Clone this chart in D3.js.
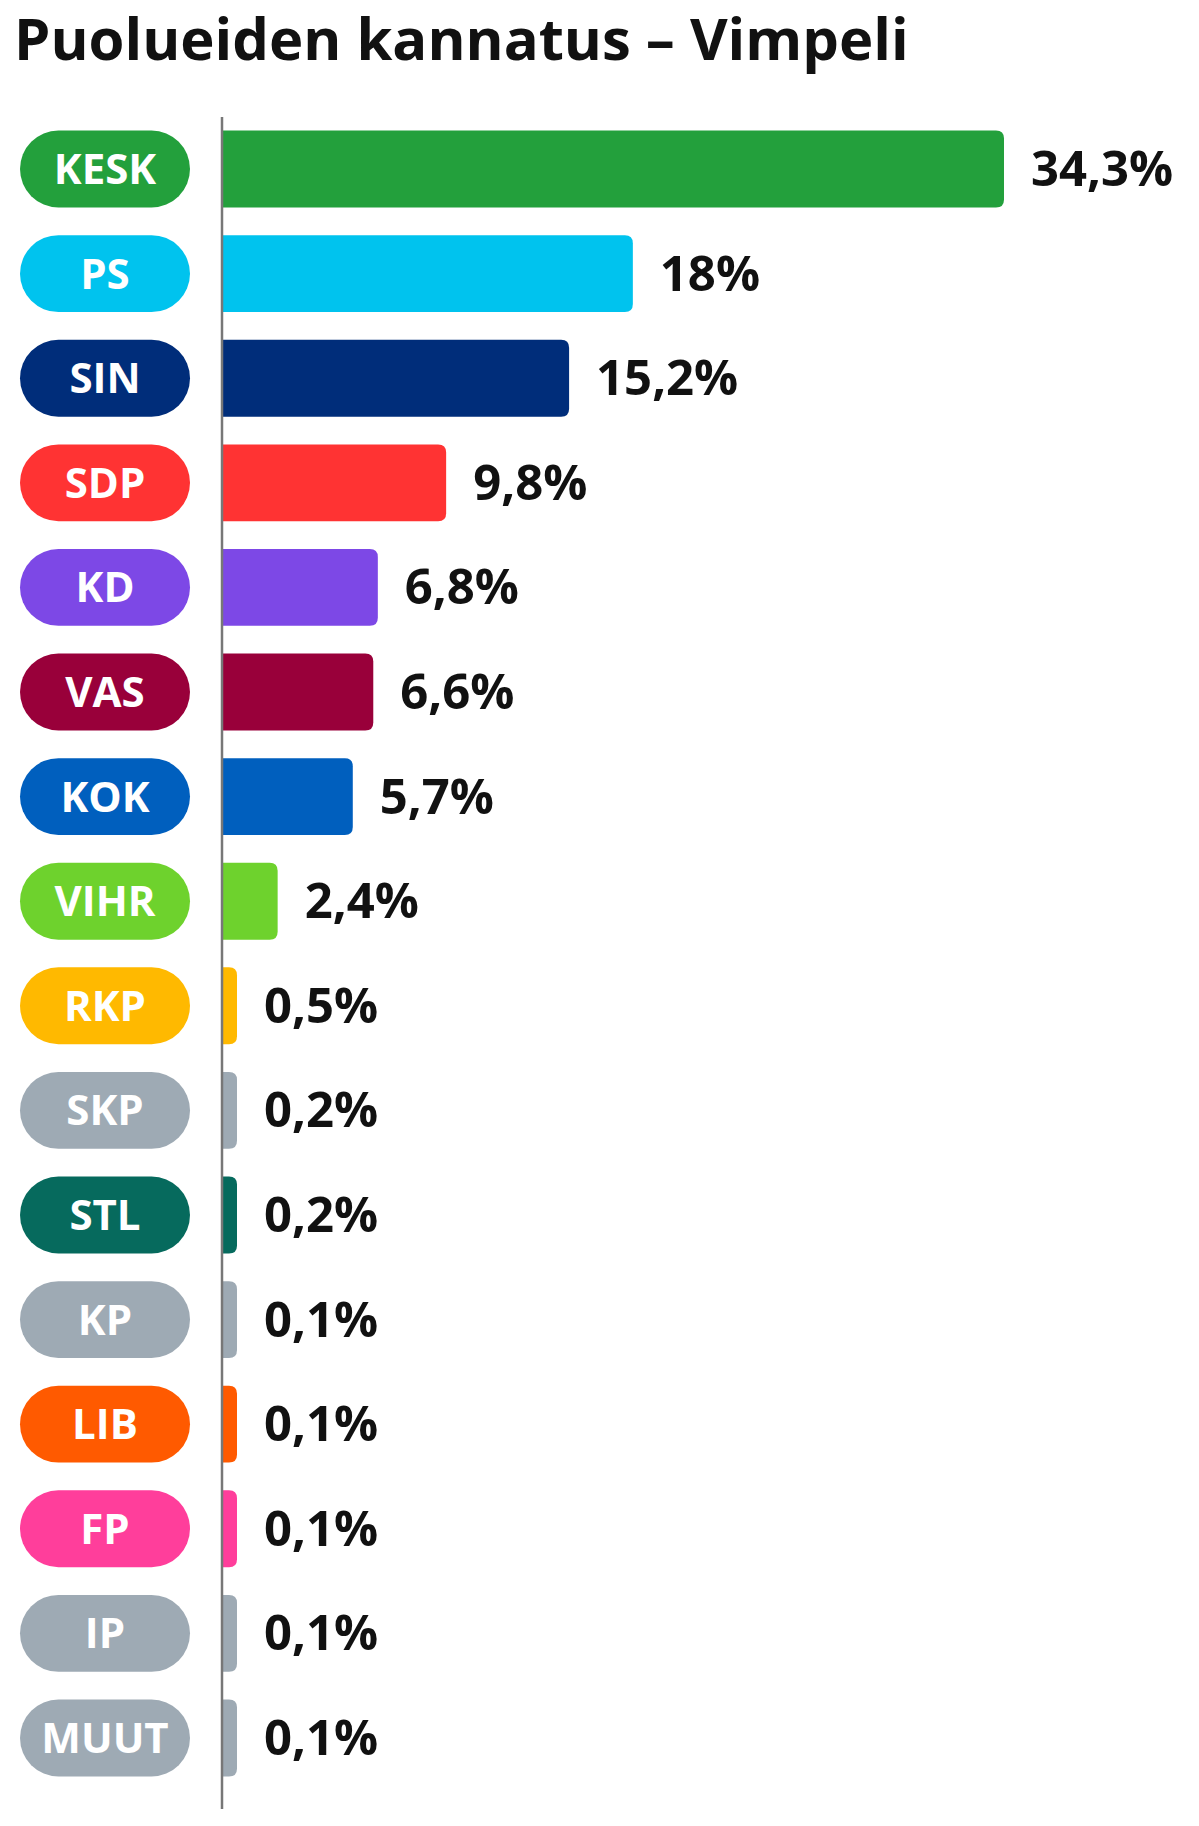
<!DOCTYPE html><html><head><meta charset="utf-8"><script src="https://cdn.jsdelivr.net/npm/d3@7"></script>
<style>body{margin:0;background:#fff}</style></head><body><svg id="c" width="1199" height="1826"></svg>
<script>
const parties=["KESK","PS","SIN","SDP","KD","VAS","KOK","VIHR","RKP","SKP","STL","KP","LIB","FP","IP","MUUT"];
const values=[34.3,18,15.2,9.8,6.8,6.6,5.7,2.4,0.5,0.2,0.2,0.1,0.1,0.1,0.1,0.1];
const labels=["34,3%","18%","15,2%","9,8%","6,8%","6,6%","5,7%","2,4%","0,5%","0,2%","0,2%","0,1%","0,1%","0,1%","0,1%","0,1%"];
const colors=["#23a03c","#00c3ee","#002d7a","#ff3333","#7d48e6","#99003a","#005fbe","#6ed22d","#ffb900","#9eaab4","#066a5d","#9eaab4","#ff5a00","#ff3e9b","#9eaab4","#9eaab4"];
const svg=d3.select("#c");
const font="'Open Sans','Noto Sans',sans-serif";
svg.append("text").attr("x",14).attr("y",60).attr("font-family",font).attr("font-weight",700).attr("font-size",58).attr("fill","#111").text("Puolueiden kannatus – Vimpeli");
const x0=223;
const x=d3.scaleLinear().domain([0,34.3]).range([0,781]);
const y=d3.scaleBand().domain(parties).range([117,1790]).paddingInner(0.265).paddingOuter(0.13);
const g=svg.selectAll("g.r").data(parties).join("g");
g.append("rect").attr("x",20).attr("y",d=>y(d)).attr("width",170).attr("height",y.bandwidth()).attr("rx",y.bandwidth()/2).attr("fill",(d,i)=>colors[i]);
g.append("text").attr("x",105).attr("y",d=>y(d)+y.bandwidth()/2+15).attr("text-anchor","middle").attr("font-family",font).attr("font-weight",700).attr("font-size",42).attr("fill","#fff").text(d=>d);
const w=i=>Math.max(x(values[i]),14);
g.append("path").attr("d",(d,i)=>{const r=8,h=y.bandwidth(),yy=y(d),ww=w(i);return `M${x0-2},${yy}H${x0+ww-r}Q${x0+ww},${yy} ${x0+ww},${yy+r}V${yy+h-r}Q${x0+ww},${yy+h} ${x0+ww-r},${yy+h}H${x0-2}Z`;}).attr("fill",(d,i)=>colors[i]);
g.append("text").attr("x",(d,i)=>x0+w(i)+27).attr("y",d=>y(d)+y.bandwidth()/2+17).attr("font-family",font).attr("font-weight",700).attr("font-size",49).attr("fill","#111").text((d,i)=>labels[i]);
svg.append("line").attr("x1",x0-1).attr("x2",x0-1).attr("y1",117).attr("y2",1809).attr("stroke","#777").attr("stroke-width",2.5);
</script></body></html>
